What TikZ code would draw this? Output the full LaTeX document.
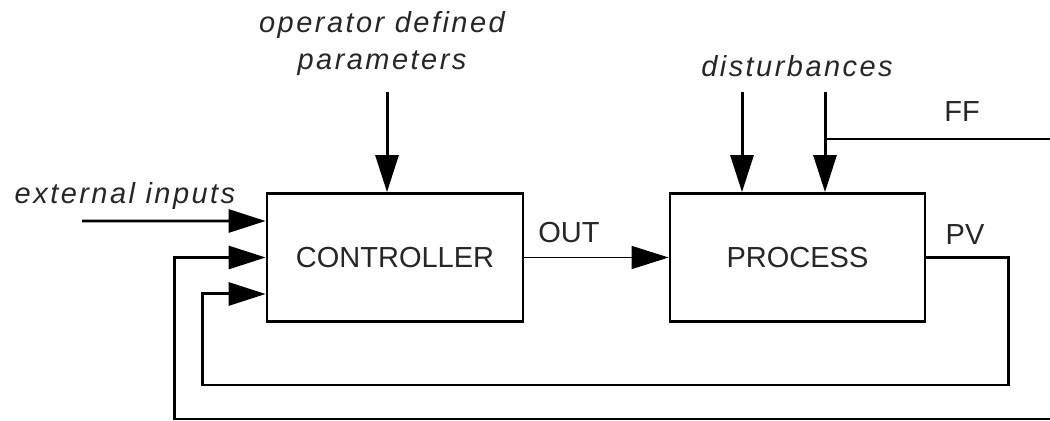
\documentclass[tikz,border=0pt]{standalone}
\usepackage{fontspec}
\setmainfont{Liberation Sans}
\newfontfamily\notefont[LetterSpace=8.5]{Liberation Sans}
\usetikzlibrary{arrows.meta}

\begin{document}
\begin{tikzpicture}[x=0.02cm, y=-0.02cm, >={Triangle[length=7.4mm, width=4.6mm]}, line width=1.7pt,
    block/.style={draw, rectangle, line width=1.6pt, minimum width=5.12cm, minimum height=2.56cm,
        inner sep=0pt, text=black!85, font=\fontsize{16.5}{20}\selectfont},
    tag/.style={anchor=base, inner sep=0pt, text=black!85, font=\fontsize{16.5}{20}\selectfont},
    note/.style={tag, font=\notefont\itshape\fontsize{16.5}{20}\selectfont}]
    \useasboundingbox (0,0) rectangle (1050,421);
    % Blocks
    \node[block] (ctrl) at (395,257.5) {CONTROLLER};
    \node[block, minimum width=5.1cm] (proc) at (797.5,257.5) {PROCESS};
    % Free ends
    \coordinate (extin) at (82,221);
    \coordinate (opin) at (387,92);
    \coordinate (dist1) at (742,92);
    \coordinate (dist2) at (825,92);
    \coordinate (ffend) at (1050,139);
    \coordinate (retend) at (1050,419);
    \coordinate (extjoin) at ([yshift=0.73cm]ctrl.west);
    \coordinate (fbjoin) at ([yshift=-0.73cm]ctrl.west);
    % Inputs
    \draw[->] (extin) -- (extjoin);
    \draw[->] (opin) -- (opin |- ctrl.north);
    \draw[->] (dist1) -- (dist1 |- proc.north);
    \draw[->] (dist2) -- (dist2 |- proc.north);
    \draw (dist2 |- ffend) -- (ffend);
    \draw[->, line width=0.85pt] (ctrl) -- (proc);
    % Feedback loops
    \draw[->] (proc.east) -- ++(82,0) -- ++(0,127.5) -| ([xshift=-1.26cm]fbjoin) -- (fbjoin);
    \draw[->] (retend) -| ([xshift=-1.82cm]ctrl.west) -- (ctrl.west);
    % Labels
    \node[note] (oplabel) at (382,33) {operator defined};
    \node[note] (parlabel) at (382,70) {parameters};
    \node[note] (extlabel) at (125,204) {external inputs};
    \node[note] (distlabel) at (797,77) {disturbances};
    \node[tag] (outlabel) at (569,243) {OUT};
    \node[tag] (fflabel) at (962,122) {FF};
    \node[tag] (pvlabel) at (965,245) {PV};
\end{tikzpicture}
\end{document}
